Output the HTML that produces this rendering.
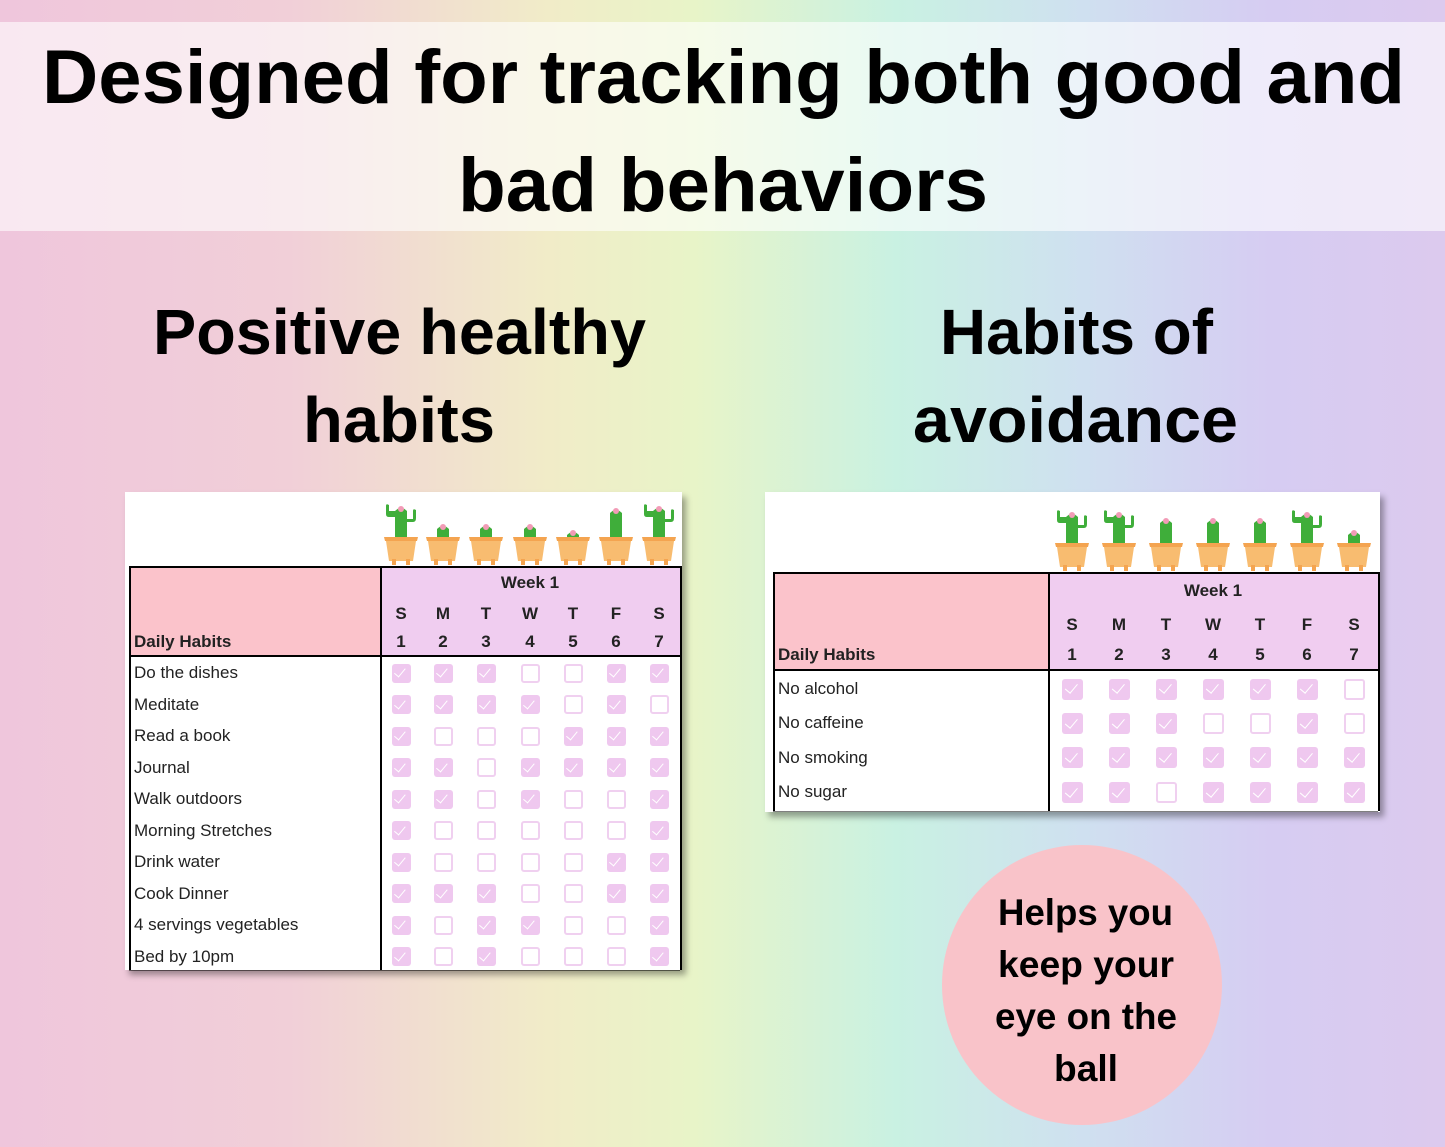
<!DOCTYPE html>
<html><head><meta charset="utf-8"><style>
*{margin:0;padding:0;box-sizing:border-box}
body{width:1445px;height:1147px;overflow:hidden;position:relative;font-family:"Liberation Sans",sans-serif;
background:linear-gradient(90deg,#efc6dc 0%,#f1cfd8 20%,#f1ecc8 38%,#e8f4c8 48%,#c9f1e2 62%,#cfe0f0 75%,#d6ccf2 88%,#dccaee 100%);}
.banner{position:absolute;left:0;top:22px;width:1445px;height:209px;background:rgba(255,255,255,0.6)}
.t{position:absolute;font-weight:bold;color:#000;white-space:nowrap;transform-origin:0 0;line-height:1}
.card{position:absolute;background:#fff;box-shadow:4px 5px 6px rgba(0,0,0,0.35)}
.cell{position:absolute;font-size:17px;color:#222;white-space:nowrap}
.cb{position:absolute;border-radius:3px}
.on{background:#efc8ef}
.on::after{content:"";position:absolute;left:30%;top:14%;width:28%;height:50%;border-right:1.5px solid #fff;border-bottom:1.5px solid #fff;transform:rotate(40deg)}
.off{border:2px solid #f0d0f0;background:#fff}
.circle{position:absolute;left:942px;top:845px;width:280px;height:280px;border-radius:50%;background:#f9c3c9}
</style></head><body>
<div class="banner"></div>
<div class="circle"></div>
<div id="root"></div>
<script>
const R=document.getElementById('root');
function txt(s,x,y,w,fs){const d=document.createElement('div');d.className='t';d.textContent=s;d.style.left=x+'px';d.style.top=y+'px';d.style.fontSize=fs+'px';R.appendChild(d);
 const cw=d.getBoundingClientRect().width;d.style.transform='scaleX('+(w/cw)+')';}
txt('Designed for tracking both good and',42,48-8,1363,76);
txt('bad behaviors',458,156-8,530,76);
txt('Positive healthy',153,307-7,493,64);
txt('habits',303,395-7,192,64);
txt('Habits of',940,307-7,273,64);
txt('avoidance',913,395-7,325,64);
const ct=[['Helps you',998,898],['keep your',998,950],['eye on the',995,1002],['ball',1054,1054]];
const cw2={'Helps you':175,'keep your':176,'eye on the':182,'ball':64};
ct.forEach(c=>txt(c[0],c[1],c[2]-4,cw2[c[0]],37));

function cactus(cx,base,h,arms){
 const s=`<svg style="position:absolute;left:${cx-20}px;top:${base-75}px" width="40" height="75" viewBox="0 0 40 75">
 <path d="M14 ${50-h} q6 -6 12 0 v${h} h-12z" fill="#3fae3a"/>
 ${arms?`<path d="M14 ${56-h} h-6 q-3 0 -3 -3 v-8 q0-3 3 -1 v6 h6z M26 ${58-h} h6 v-8 q0-3 3-1 v8 q0 4 -3 4 h-6z" fill="#3fae3a"/>`:''}
 <circle cx="20" cy="${48-h}" r="3" fill="#f29bb6"/>
 <path d="M3 46 h34 l-1 4 h-32z" fill="#f4a450"/>
 <path d="M5 50 h30 l-3 20 h-24z" fill="#f8bc70"/>
 <rect x="11" y="68" width="4" height="6" fill="#f4a450"/><rect x="25" y="68" width="4" height="6" fill="#f4a450"/>
 </svg>`;R.insertAdjacentHTML('beforeend',s);}

function table(o){
 const c=document.createElement('div');c.className='card';c.style.cssText=`left:${o.cx}px;top:${o.cy}px;width:${o.cw}px;height:${o.ch}px`;R.appendChild(c);
 const b=`position:absolute;background:#000;`;
 R.insertAdjacentHTML('beforeend',`<div style="position:absolute;left:${o.x0}px;top:${o.ht}px;width:${o.lc-o.x0}px;height:${o.hb-o.ht}px;background:#fbc3cb"></div>
 <div style="position:absolute;left:${o.lc}px;top:${o.ht}px;width:${o.x1-o.lc}px;height:${o.hb-o.ht}px;background:#f0cdf0"></div>
 <div style="${b}left:${o.x0}px;top:${o.ht}px;width:${o.x1-o.x0}px;height:2px"></div>
 <div style="${b}left:${o.x0}px;top:${o.hb}px;width:${o.x1-o.x0}px;height:2px"></div>
 <div style="${b}left:${o.x0}px;top:${o.ht}px;width:2px;height:${o.bot-o.ht}px"></div>
 <div style="${b}left:${o.lc}px;top:${o.ht}px;width:2px;height:${o.bot-o.ht}px"></div>
 <div style="${b}left:${o.x1}px;top:${o.ht}px;width:2px;height:${o.bot-o.ht}px"></div>
 <div style="${b}left:${o.x0}px;top:${o.bot}px;width:${o.x1-o.x0}px;height:1px;opacity:.5"></div>`);
 const mid=(o.cols[0]+o.cols[6])/2;
 R.insertAdjacentHTML('beforeend',`<div class="cell" style="left:${mid-40}px;width:80px;text-align:center;top:${o.wk-10}px;font-weight:bold">Week 1</div>
 <div class="cell" style="left:${o.x0+5}px;top:${o.dh-10}px;font-weight:bold">Daily Habits</div>`);
 'SMTWTFS'.split('').forEach((d,i)=>{R.insertAdjacentHTML('beforeend',`<div class="cell" style="left:${o.cols[i]-10}px;width:20px;text-align:center;top:${o.dr-10}px;font-weight:bold">${d}</div>
 <div class="cell" style="left:${o.cols[i]-10}px;width:20px;text-align:center;top:${o.nr-10}px;font-weight:bold">${i+1}</div>`);
  cactus(o.cols[i],o.ht,o.ch2[i],o.arms[i]);});
 o.rows.forEach((r,j)=>{const y=o.r0+j*o.rs;
  R.insertAdjacentHTML('beforeend',`<div class="cell" style="left:${o.x0+5}px;top:${y-10}px">${r[0]}</div>`);
  r[1].split('').forEach((v,i)=>{R.insertAdjacentHTML('beforeend',`<div class="cb ${v=='1'?'on':'off'}" style="left:${o.cols[i]-o.bs/2}px;top:${y-o.bs/2}px;width:${o.bs}px;height:${o.bs}px"></div>`);});});
}
table({cx:125,cy:492,cw:557,ch:478,x0:129,x1:680,lc:380,ht:566,hb:655,bot:970,wk:583,dh:642,dr:614,nr:642,
 cols:[401,443,486,530,573,616,659],bs:19,r0:673,rs:31.5,ch2:[30,12,12,12,6,28,30],arms:[1,0,0,0,0,0,1],
 rows:[['Do the dishes','1110011'],['Meditate','1111010'],['Read a book','1000111'],['Journal','1101111'],['Walk outdoors','1101001'],['Morning Stretches','1000001'],['Drink water','1000011'],['Cook Dinner','1110011'],['4 servings vegetables','1011001'],['Bed by 10pm','1010001']]});
table({cx:765,cy:492,cw:615,ch:320,x0:773,x1:1378,lc:1048,ht:572,hb:669,bot:811,wk:591,dh:655,dr:625,nr:655,
 cols:[1072,1119,1166,1213,1260,1307,1354],bs:21,r0:689,rs:34.4,ch2:[30,30,24,24,24,30,12],arms:[1,1,0,0,0,1,0],
 rows:[['No alcohol','1111110'],['No caffeine','1110010'],['No smoking','1111111'],['No sugar','1101111']]});
</script>
</body></html>
